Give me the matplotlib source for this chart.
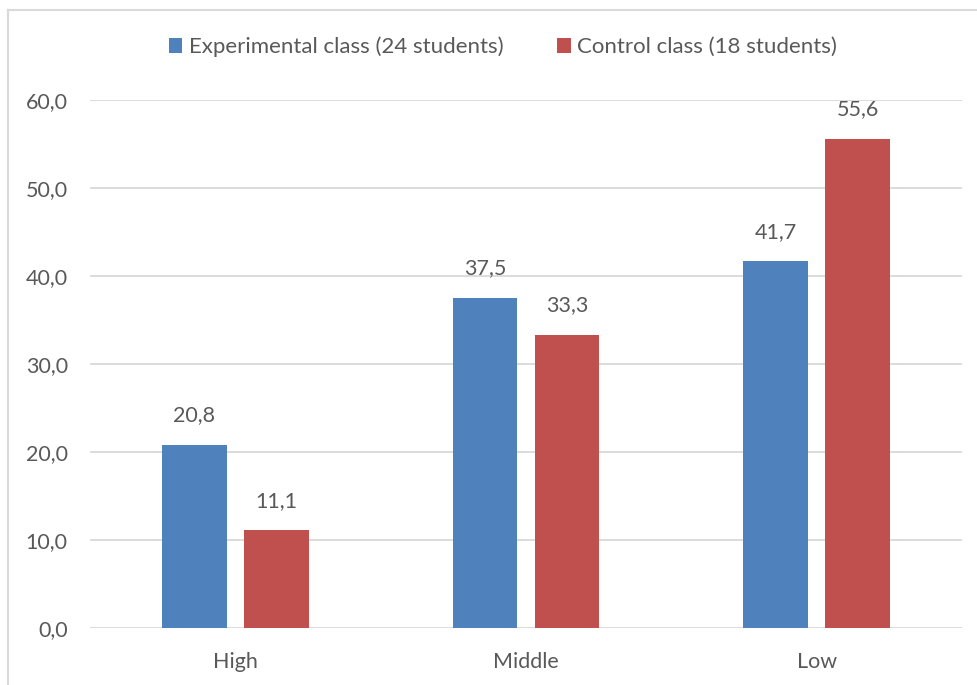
import matplotlib
matplotlib.use("Agg")
import matplotlib.pyplot as plt
from matplotlib.lines import Line2D
from matplotlib.patches import Patch
import numpy as np

categories = ["High", "Middle", "Low"]
experimental = [20.8, 37.5, 41.7]
control = [11.1, 33.3, 55.6]
series_names = ["Experimental class (24 students)", "Control class (18 students)"]
y_ticks = [0, 10, 20, 30, 40, 50, 60]

BLUE = "#4F81BD"
RED = "#C0504D"
TEXT = "#595959"
GRID = "#D9D9D9"
FS = 15.5

plt.rcParams["font.family"] = ["Lato", "DejaVu Sans"]

fig = plt.figure(figsize=(9.77, 6.85), dpi=100)
ax = fig.add_axes([90 / 977, 1 - 628 / 685, 872 / 977, 528 / 685])

x = np.arange(len(categories))
width = 0.223
offset = 0.141
b1 = ax.bar(x - offset, experimental, width, color=BLUE, zorder=3)
b2 = ax.bar(x + offset, control, width, color=RED, zorder=3)

def fmt(v):
    return f"{v:.1f}".replace(".", ",")

for bars, vals in ((b1, experimental), (b2, control)):
    for rect, v in zip(bars, vals):
        ax.annotate(fmt(v), (rect.get_x() + rect.get_width() / 2, v),
                    xytext=(0, 14), textcoords="offset points",
                    ha="center", va="bottom", fontsize=FS, color=TEXT)

ax.set_xlim(-0.5, 2.5)
ax.set_ylim(0, 60)
ax.set_yticks(y_ticks)
ax.set_yticklabels([fmt(t) for t in y_ticks])
ax.set_xticks(x)
ax.set_xticklabels(categories)
ax.tick_params(axis="both", length=0, labelsize=FS, colors=TEXT)
ax.tick_params(axis="y", pad=16)
ax.tick_params(axis="x", pad=17)
ax.yaxis.grid(True, color=GRID, linewidth=1.3, zorder=0)
for s in ax.spines.values():
    s.set_visible(False)

handles = [Patch(facecolor=BLUE), Patch(facecolor=RED)]
fig.legend(handles, series_names, loc="center", bbox_to_anchor=(503 / 977, 1 - 47 / 685),
           ncol=2, frameon=False, fontsize=16, labelcolor=TEXT,
           handlelength=0.62, handleheight=0.62, handletextpad=0.3, columnspacing=2.4)

# outer chart frame
fig.add_artist(Line2D([8 / 977, 8 / 977], [0, 1 - 10 / 685], transform=fig.transFigure,
                      color=GRID, linewidth=1.5))
fig.add_artist(Line2D([8 / 977, 1], [1 - 10 / 685, 1 - 10 / 685], transform=fig.transFigure,
                      color=GRID, linewidth=1.5))

fig.savefig("out.png", dpi=100)
